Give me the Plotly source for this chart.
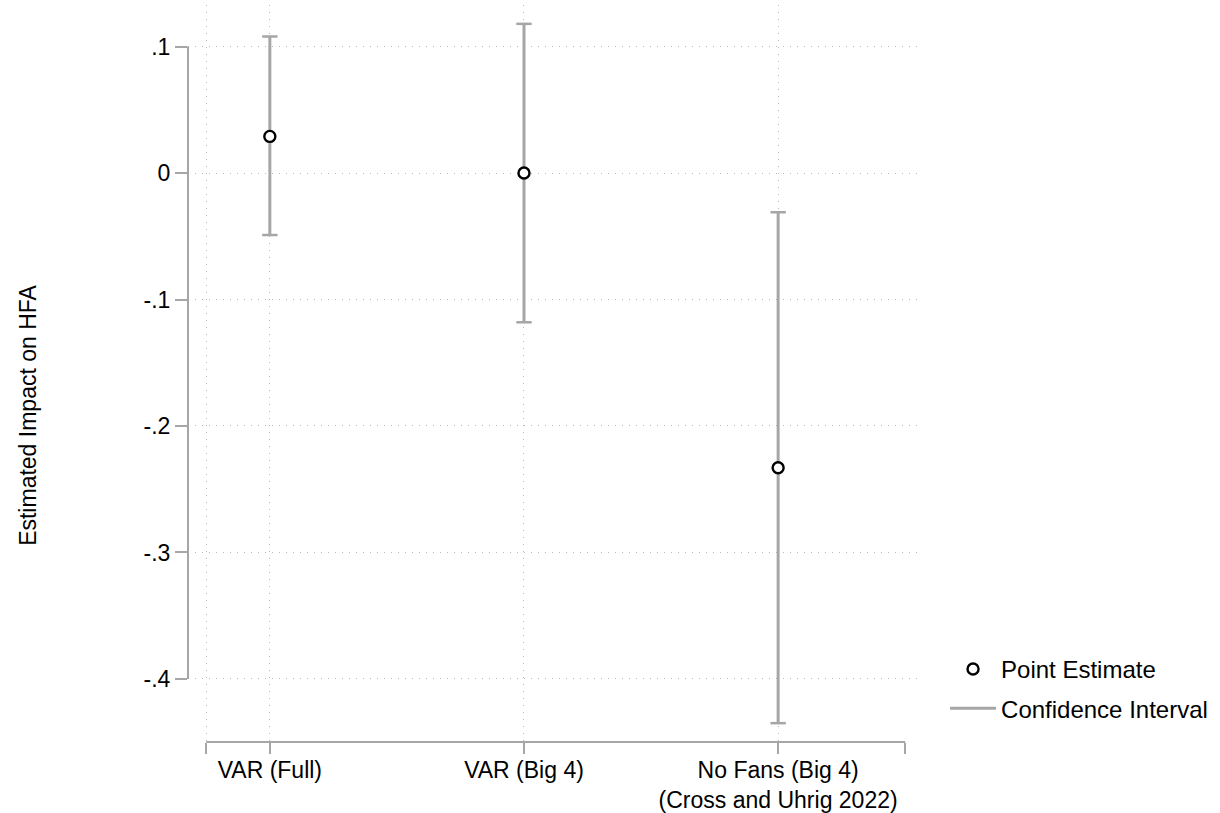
import plotly.graph_objects as go

# ---- data ----
categories = ["VAR (Full)", "VAR (Big 4)", "No Fans (Big 4)<br>(Cross and Uhrig 2022)"]
cat_pos = [1, 2, 3]
point_est = [0.029, 0.0, -0.233]
ci_low = [-0.049, -0.118, -0.435]
ci_high = [0.108, 0.118, -0.031]
y_tickvals = [0.1, 0.0, -0.1, -0.2, -0.3, -0.4]
y_ticktext = [".1", "0", "-.1", "-.2", "-.3", "-.4"]

FONT = "Liberation Sans, Arial, sans-serif"
GRAY = "#a6a6a6"
GRID = "#b8b8b8"

# CI segments built from arrays
seg_x, seg_y = [], []
for x, lo, hi in zip(cat_pos, ci_low, ci_high):
    seg_x += [x, x, None]
    seg_y += [lo, hi, None]

fig = go.Figure()

fig.add_trace(go.Scatter(
    x=seg_x, y=seg_y, mode="lines",
    line=dict(color=GRAY, width=3),
    name="Confidence Interval", legendgroup="ci", legendrank=2,
    hoverinfo="skip",
))
fig.add_trace(go.Scatter(
    x=cat_pos + cat_pos, y=ci_low + ci_high, mode="markers",
    marker=dict(symbol="line-ew", size=11, line=dict(color=GRAY, width=2.5)),
    showlegend=False, hoverinfo="skip",
))
fig.add_trace(go.Scatter(
    x=cat_pos, y=point_est, mode="markers",
    marker=dict(symbol="circle", size=11, color="white",
                line=dict(color="black", width=2.4)),
    name="Point Estimate", legendgroup="pe", legendrank=1,
))

L, R, T, B = 188, 297, 5, 71
fig.update_layout(
    width=1220, height=813,
    margin=dict(l=L, r=R, t=T, b=B, autoexpand=False),
    paper_bgcolor="white", plot_bgcolor="white",
    font=dict(family=FONT, size=23, color="black"),
    showlegend=True,
    legend=dict(
        x=1.030, xanchor="left", y=0.129, yanchor="top",
        traceorder="grouped", tracegroupgap=5, itemwidth=46,
        font=dict(size=24, color="black"),
        bgcolor="rgba(0,0,0,0)",
    ),
    xaxis=dict(
        range=[0.678, 3.57], automargin=False,
        tickvals=[0.75] + cat_pos,
        ticktext=[""] + categories,
        showgrid=True, gridcolor=GRID, griddash="1px,6px", gridwidth=1,
        zeroline=False, showline=False,
        ticks="outside", ticklen=11, tickwidth=2, tickcolor=GRAY,
        ticklabelstandoff=-4,
        minor=dict(tickvals=[3.5], ticks="outside", ticklen=11, tickwidth=2,
                   tickcolor=GRAY, showgrid=False),
        tickfont=dict(size=23, color="black"),
    ),
    yaxis=dict(
        range=[-0.4499, 0.1329], automargin=False,
        tickvals=y_tickvals, ticktext=y_ticktext,
        showgrid=True, gridcolor=GRID, griddash="1px,6px", gridwidth=1,
        zeroline=False, showline=False,
        ticks="outside", ticklen=12, tickwidth=2, tickcolor=GRAY,
        tickfont=dict(size=23, color="black"),
    ),
    shapes=[
        dict(type="line", xref="paper", yref="y", x0=0, x1=0, y0=-0.4, y1=0.1,
             line=dict(color=GRAY, width=2)),
        dict(type="line", xref="x", yref="paper", x0=0.75, x1=3.5, y0=0, y1=0,
             line=dict(color=GRAY, width=2)),
    ],
    annotations=[
        dict(text="Estimated Impact on HFA", textangle=-90,
             xref="paper", yref="y", x=(28 - L) / (1220 - L - R), y=-0.192,
             xanchor="center", yanchor="middle", showarrow=False,
             font=dict(size=23, color="black")),
    ],
)

fig.write_html("out.html")
